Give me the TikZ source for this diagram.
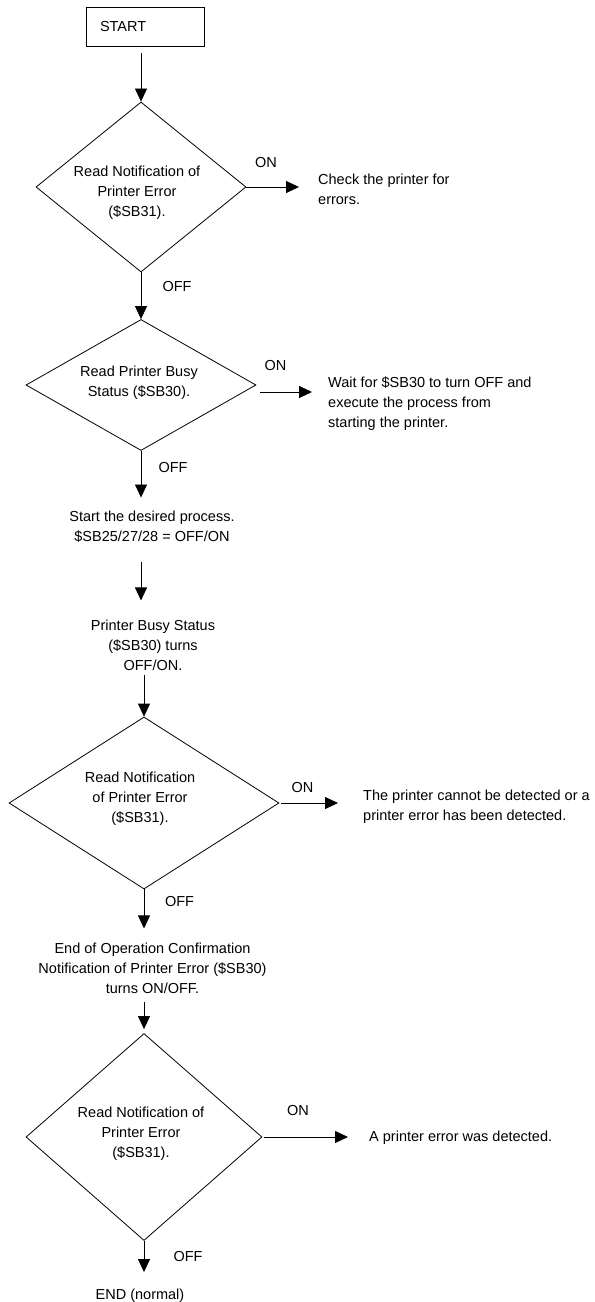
\documentclass[tikz,border=0pt]{standalone}
\usepackage{fontspec}
\setmainfont{Liberation Sans}
\usetikzlibrary{arrows.meta,shapes.geometric}

\begin{document}
\begin{tikzpicture}[x=1bp,y=-1bp,
    every node/.style={font=\fontsize{14.5bp}{20bp}\selectfont,inner sep=0pt},
    decision/.style 2 args={draw,diamond,line width=0.8bp,minimum width=#1,minimum height=#2},
    flow/.style={-{Triangle[width=12bp,length=13bp]},line width=0.8bp},
    mid/.style={align=center},
    side/.style={align=left,anchor=west}]
  \useasboundingbox (0,0) rectangle (595,1302);

  \node[draw,line width=0.8bp,minimum width=118bp,minimum height=39bp,
    text width=90bp,inner xsep=14bp,align=left] (start) at (145,26.5) {START};

  \node[decision={210bp}{170bp}] (d1) at (141,187) {};
  \node[mid] (d1t) at (137,193) {Read Notification of\\Printer Error\\(\$SB31).};
  \node[side] (chk) at (318,189) {Check the printer for\\errors.};
  \node (on1) at (266,163) {ON};
  \node (off1) at (177,287) {OFF};

  \node[decision={230bp}{131bp}] (d2) at (141,385) {};
  \node[mid] (d2t) at (139,383) {Read Printer Busy\\Status (\$SB30).};
  \node[side] (wait) at (328,404) {Wait for \$SB30 to turn OFF and\\execute the process from\\starting the printer.};
  \node (on2) at (275.5,366) {ON};
  \node (off2) at (173,468) {OFF};
  \coordinate (w2) at ([yshift=-7bp]d2.east);

  \node[mid] (proc) at (152,526.5) {Start the desired process.\\\$SB25/27/28 = OFF/ON};
  \node[mid] (busy) at (153,645) {Printer Busy Status\\(\$SB30) turns\\OFF/ON.};

  \node[decision={270bp}{172bp}] (d3) at (144,803) {};
  \node[mid] (d3t) at (140,799) {Read Notification\\of Printer Error\\(\$SB31).};
  \node[side] (fail) at (363,807) {The printer cannot be detected or a\\printer error has been detected.};
  \node (on3) at (302.5,787) {ON};
  \node (off3) at (179.5,901) {OFF};

  \node[mid] (conf) at (152.5,968) {End of Operation Confirmation\\Notification of Printer Error (\$SB30)\\turns ON/OFF.};

  \node[decision={236bp}{207bp}] (d4) at (144,1137) {};
  \node[mid] (d4t) at (141,1134) {Read Notification of\\Printer Error\\(\$SB31).};
  \node[side] (err) at (369,1138) {A printer error was detected.};
  \node (on4) at (298,1110) {ON};
  \node (off4) at (188,1256) {OFF};
  \node (end) at (140,1296) {END (normal)};

  \draw[flow,shorten <=7bp] (start.south -| d1.north) -- (d1.north);
  \draw[flow] (d1.south) -- (d2.north);
  \draw[flow,shorten >=13bp] (d2.south) -- (d2.south |- proc.north);
  \draw[flow,shorten <=20bp,shorten >=19bp] (d2.south |- proc.south) -- (d2.south |- busy.north);
  \draw[flow,shorten <=4bp] (busy.south -| d3.north) -- (d3.north);
  \draw[flow,shorten >=14bp] (d3.south) -- (d3.south |- conf.north);
  \draw[flow,shorten <=8bp,shorten >=4bp] (conf.south -| d4.north) -- (d4.north);
  \draw[flow,shorten >=17bp] (d4.south) -- (d4.south |- end.north);

  \draw[flow,shorten >=19bp] (d1.east) -- (d1.east -| chk.west);
  \draw[flow,shorten <=4bp,shorten >=16bp] (w2) -- (w2 -| wait.west);
  \draw[flow,shorten <=2bp,shorten >=25bp] (d3.east) -- (d3.east -| fail.west);
  \draw[flow,shorten <=2bp,shorten >=21bp] (d4.east) -- (d4.east -| err.west);
\end{tikzpicture}
\end{document}
